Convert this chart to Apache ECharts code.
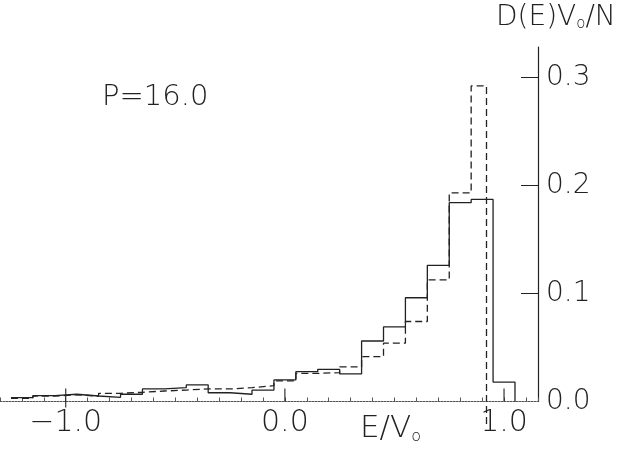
<!DOCTYPE html>
<html><head><meta charset="utf-8">
<script src="https://cdn.jsdelivr.net/npm/echarts@6/dist/echarts.min.js"></script>
<style>html,body{margin:0;padding:0;background:#fff}#c{width:617px;height:451px}</style>
</head><body><div id="c"></div>
<script>
// bin edges (E/V0) and histogram heights D(E)V0/N
const solidEdges = [-1.25,-1.15,-1.05,-0.95,-0.85,-0.75,-0.65,-0.55,-0.45,-0.35,-0.25,-0.15,-0.05,0.05,0.15,0.25,0.35,0.45,0.55,0.65,0.75,0.85,0.95,1.05];
const solidValues = [0.0035,0.0054,0.0067,0.0051,0.0039,0.0067,0.0116,0.0128,0.0153,0.0081,0.0067,0.0106,0.020,0.0276,0.0298,0.0255,0.056,0.069,0.096,0.126,0.184,0.187,0.018];
const dashedEdges = [-1.25,-1.15,-1.05,-0.95,-0.85,-0.75,-0.65,-0.55,-0.45,-0.35,-0.25,-0.15,-0.05,0.05,0.15,0.25,0.35,0.45,0.55,0.65,0.75,0.85,0.92];
const dashedValues = [0.003,0.005,0.0062,0.005,0.0076,0.0085,0.0097,0.0106,0.0116,0.0116,0.0128,0.0146,0.019,0.026,0.0267,0.032,0.0415,0.054,0.074,0.1125,0.193,0.292];
const dashedDropTo = -0.021;
const xMajorTicks = [-1, 0, 1];
const xTickLabels = ['\u22121.0', '0.0', '1.0'];
const yTicks = [0.1, 0.2, 0.3];
const yLabels = [0, 0.1, 0.2, 0.3];

function stepPoints(edges, vals, endY) {
  const pts = [];
  for (let i = 0; i < vals.length; i++) {
    pts.push([edges[i], vals[i]]);
    pts.push([edges[i + 1], vals[i]]);
  }
  pts.push([edges[edges.length - 1], endY]);
  return pts;
}

const FONT = 'DejaVu Sans';
const INK = '#222';
const chart = echarts.init(document.getElementById('c'), null, {renderer: 'canvas'});
const grid = {left: 0, right: 79, top: 47, bottom: 49.5, containLabel: false};
chart.setOption({
  animation: false,
  backgroundColor: '#fff',
  title: [
    {text: '{a|D(E)V}{s|o}{a|/N}', left: 496, top: 4, padding: 0,
     textStyle: {rich: {a: {fontFamily: FONT, fontWeight: 200, fontSize: 28, color: INK},
                        s: {fontFamily: FONT, fontWeight: 200, fontSize: 15, color: INK, padding: [12, 0, 0, 0]}}}},
    {text: 'P=16.0', left: 102, top: 83, padding: 0,
     textStyle: {fontFamily: FONT, fontWeight: 200, fontSize: 29, color: INK}},
    {text: '{a|E/V}{s|o}', left: 360, top: 413, padding: 0,
     textStyle: {rich: {a: {fontFamily: FONT, fontWeight: 200, fontSize: 31, color: INK},
                        s: {fontFamily: FONT, fontWeight: 200, fontSize: 16, color: INK, padding: [16, 0, 0, 0]}}}}
  ],
  grid: grid,
  xAxis: [
    {type: 'value', min: -1.3, max: 1.155, position: 'bottom',
     axisLine: {show: true, onZero: false, lineStyle: {color: '#555', width: 1, type: [2, 1]}},
     axisTick: {show: false},
     axisLabel: {show: true, customValues: xMajorTicks, margin: 7, fontFamily: FONT, fontWeight: 200, fontSize: 30, color: INK,
                 formatter: function (v) { const i = xMajorTicks.indexOf(Math.round(v)); return i >= 0 ? xTickLabels[i] : ''; }},
     splitLine: {show: false}},
    {type: 'value', min: -1.3, max: 1.155, interval: 0.1, position: 'bottom', gridIndex: 0,
     axisLine: {show: false},
     axisTick: {show: true, inside: true, length: 4, lineStyle: {color: '#555', width: 1}},
     axisLabel: {show: false}, splitLine: {show: false}}
  ],
  yAxis: {type: 'value', min: 0, max: 0.328, position: 'right',
    axisLine: {show: true, onZero: false, lineStyle: {color: INK, width: 1.2}},
    axisTick: {show: true, inside: true, length: 17, customValues: yTicks, lineStyle: {color: INK, width: 1}},
    axisLabel: {show: true, customValues: yLabels, margin: 8, fontFamily: FONT, fontWeight: 200, fontSize: 28, color: INK,
                formatter: function (v) { return v.toFixed(1); }},
    splitLine: {show: false}},
  series: [
    {type: 'custom', xAxisIndex: 0, clip: false, data: xMajorTicks.map(function (v) { return [v, 0]; }),
     renderItem: function (params, api) {
       const p = api.coord([api.value(0), 0]);
       const below = params.dataIndex === 0 ? 6 : 0;
       return {type: 'line', shape: {x1: p[0], y1: p[1] - 13, x2: p[0], y2: p[1] + below},
               style: {stroke: INK, lineWidth: 1.1}};
     }},
    {type: 'line', xAxisIndex: 0, data: stepPoints(solidEdges, solidValues, 0), symbol: 'none', clip: false,
     lineStyle: {color: INK, width: 1.3}},
    {type: 'line', xAxisIndex: 0, data: stepPoints(dashedEdges, dashedValues, dashedDropTo), symbol: 'none', clip: false,
     lineStyle: {color: INK, width: 1.3, type: [7, 4]}}
  ]
});
</script></body></html>
